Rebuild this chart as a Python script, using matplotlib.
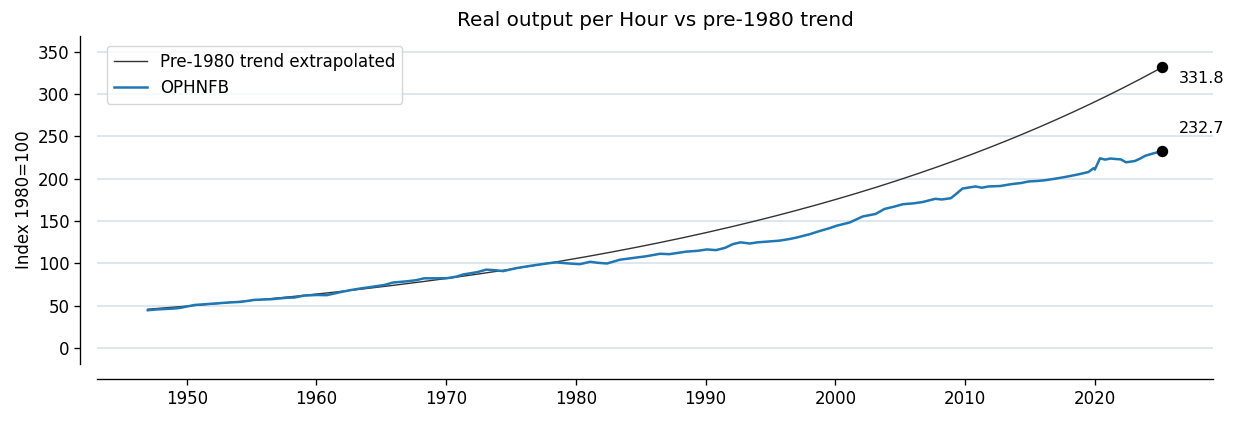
import numpy as np
import matplotlib
matplotlib.use("Agg")
import matplotlib.pyplot as plt

# OPHNFB, index 1980=100
years = [1947.0, 1947.5, 1948.0, 1949.0, 1949.5, 1950.6, 1951.5, 1952.4, 1953.3, 1954.2,
         1955.2, 1956.5, 1957.7, 1958.3, 1959.0, 1960.0, 1960.8, 1961.8, 1962.6, 1963.4,
         1964.3, 1965.2, 1965.9, 1967.0, 1967.7, 1968.3, 1969.3, 1970.1, 1970.8, 1971.3,
         1972.4, 1973.1, 1973.8, 1974.4, 1975.4, 1976.2, 1977.0, 1978.0, 1978.5, 1979.5,
         1980.3, 1981.1, 1981.7, 1982.4, 1983.4, 1984.4, 1985.4, 1986.5, 1987.2, 1988.5,
         1989.4, 1990.1, 1990.8, 1991.5, 1992.1, 1992.7, 1993.4, 1994.0, 1994.7, 1995.7,
         1996.5, 1997.0, 1998.0, 1998.8, 1999.5, 2000.1, 2001.1, 2002.1, 2003.1, 2003.8,
         2004.5, 2005.2, 2006.0, 2006.7, 2007.7, 2008.2, 2008.9, 2009.3, 2009.8, 2010.8,
         2011.3, 2011.8, 2012.7, 2013.6, 2014.3, 2014.9, 2015.6, 2016.2, 2017.2, 2018.0,
         2018.8, 2019.5, 2019.9, 2020.0, 2020.4, 2020.8, 2021.2, 2021.6, 2022.0, 2022.4,
         2023.1, 2023.5, 2023.9, 2024.5, 2025.2]
ophnfb = [44.8, 45.5, 46.0, 46.8, 47.6, 51.0, 52.0, 53.0, 54.0, 54.7,
          57.0, 57.8, 59.5, 59.8, 62.0, 62.8, 62.6, 66.0, 68.5, 70.5,
          72.5, 74.5, 77.5, 79.0, 80.3, 82.5, 82.5, 82.7, 84.5, 87.0,
          89.8, 92.8, 92.0, 91.0, 94.5, 96.5, 98.4, 100.5, 101.3, 100.0,
          99.2, 102.0, 100.8, 100.0, 104.5, 106.5, 108.5, 111.5, 111.0, 114.0,
          115.0, 116.6, 115.8, 118.5, 122.9, 125.0, 123.6, 125.0, 125.8, 127.0,
          129.0, 130.6, 134.5, 138.4, 141.5, 144.6, 148.4, 155.5, 158.5, 164.5,
          167.0, 170.0, 171.0, 172.5, 176.4, 175.6, 177.1, 182.0, 188.5, 191.0,
          189.5, 191.0, 191.5, 193.8, 195.0, 196.9, 197.5, 198.4, 200.8, 203.0,
          205.5, 208.0, 212.5, 211.0, 224.2, 222.7, 224.0, 223.4, 223.0, 219.5,
          221.1, 224.0, 227.3, 230.0, 232.7]

# pre-1980 exponential trend, extrapolated to the last observation
trend_start = 46.0
trend_end = 331.8

x = np.array(years)
y = np.array(ophnfb)
growth = np.log(trend_end / trend_start) / (x[-1] - x[0])
trend = trend_start * np.exp(growth * (x - x[0]))
xt = np.linspace(x[0], x[-1], 300)
trend_smooth = trend_start * np.exp(growth * (xt - x[0]))

fig = plt.figure(figsize=(12.38, 4.21), dpi=100)
ax = fig.add_axes([0.0784, 0.1354, 0.9014, 0.7791])

ax.plot(xt, trend_smooth, color='#333333', lw=1.0, label='Pre-1980 trend extrapolated')
ax.plot(x, y, color='#1f77b4', lw=1.8, label='OPHNFB')

ax.plot(x[-1], trend[-1], 'o', color='black', ms=7.2)
ax.plot(x[-1], y[-1], 'o', color='black', ms=7.2)
ax.annotate(f"{trend[-1]:.1f}", (x[-1], trend[-1]), xytext=(12, -8),
            textcoords='offset points', ha='left', va='center', fontsize=11.5)
ax.annotate(f"{y[-1]:.1f}", (x[-1], y[-1]), xytext=(12, 16),
            textcoords='offset points', ha='left', va='center', fontsize=11.5)

ax.set_title('Real output per Hour vs pre-1980 trend', fontsize=14.4, pad=7)
ax.set_ylabel('Index 1980=100', fontsize=12)
ax.set_ylim(-18.7, 368.7)
ax.set_yticks(np.arange(0, 351, 50))
ax.tick_params(labelsize=12, length=4.2, width=0.96)

ax.yaxis.grid(True, color='#d5e3ee', lw=1.2)
ax.set_axisbelow(True)
for s in ['top', 'right']:
    ax.spines[s].set_visible(False)
for s in ['left', 'bottom']:
    ax.spines[s].set_linewidth(0.96)
ax.spines['left'].set_position(('outward', 12))
ax.spines['bottom'].set_position(('outward', 11))

ax.legend(loc='upper left', fontsize=12, framealpha=0.8, borderaxespad=0.6)

fig.savefig('out.png', dpi=100)
